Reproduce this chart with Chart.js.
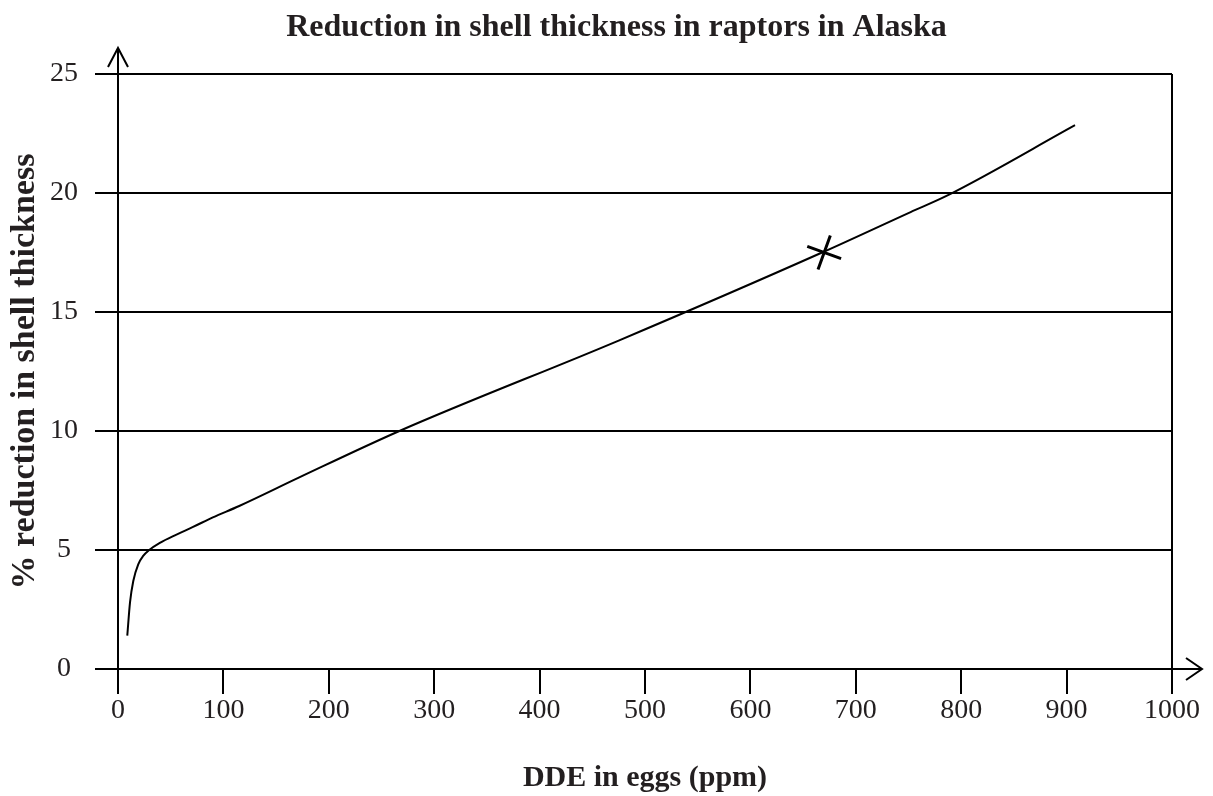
<!DOCTYPE html>
<html>
<head>
<meta charset="utf-8">
<script src="https://cdn.jsdelivr.net/npm/chart.js@4.4.1/dist/chart.umd.min.js"></script>
<style>
  html, body { margin: 0; padding: 0; background: #ffffff; }
  #wrap { width: 1213px; height: 796px; position: relative; }
</style>
</head>
<body>
<div id="wrap"><canvas id="c" width="1213" height="796"></canvas></div>
<script>
// ---- data ----
const ddePpm       = [8.8, 11.4, 14.5, 19.2, 23.9, 29.6, 39.7, 55.5, 71.2, 90, 115, 172, 267, 475, 668, 752, 787, 908];
const reductionPct = [1.4, 2.8, 3.7, 4.4, 4.75, 5.0, 5.3, 5.65, 5.97, 6.37, 6.85, 8.05, 10, 13.8, 17.5, 19.2, 19.9, 22.85];
const markerPpm    = [670];
const markerPct    = [17.5];
const xTicks       = [0, 100, 200, 300, 400, 500, 600, 700, 800, 900, 1000];
const yTicks       = [0, 5, 10, 15, 20, 25];
const titleText    = 'Reduction in shell thickness in raptors in Alaska';
const xTitleText   = 'DDE in eggs (ppm)';
const yTitleText   = '% reduction in shell thickness';

const INK = '#231f20';
const LINE = '#000000';
const SERIF = '"Liberation Serif", "Times New Roman", serif';

const curvePoints = ddePpm.map((x, i) => ({ x: x, y: reductionPct[i] }));
const markerPoints = markerPpm.map((x, i) => ({ x: x, y: markerPct[i] }));

const arrowPlugin = {
  id: 'axisArrows',
  afterDraw(chart) {
    const { left, right, top, bottom } = chart.chartArea;
    const ctx = chart.ctx;
    ctx.save();
    ctx.strokeStyle = LINE;
    ctx.lineWidth = 2;
    ctx.lineCap = 'butt';
    // y-axis extension + arrow head
    const yTip = top - 26;
    ctx.beginPath();
    ctx.moveTo(left, top);
    ctx.lineTo(left, yTip);
    ctx.moveTo(left - 10, yTip + 19);
    ctx.lineTo(left, yTip);
    ctx.lineTo(left + 10, yTip + 19);
    ctx.stroke();
    // x-axis extension + arrow head
    const xTip = right + 30;
    ctx.beginPath();
    ctx.moveTo(right, bottom);
    ctx.lineTo(xTip, bottom);
    ctx.moveTo(xTip - 16, bottom - 11);
    ctx.lineTo(xTip, bottom);
    ctx.lineTo(xTip - 16, bottom + 11);
    ctx.stroke();
    ctx.restore();
  }
};

new Chart(document.getElementById('c'), {
  type: 'scatter',
  data: {
    datasets: [
      {
        label: 'curve',
        data: curvePoints,
        showLine: true,
        borderColor: LINE,
        borderWidth: 2,
        pointRadius: 0,
        cubicInterpolationMode: 'monotone',
        fill: false,
        clip: false
      },
      {
        label: 'marker',
        data: markerPoints,
        showLine: false,
        pointStyle: 'cross',
        pointRadius: 18,
        pointRotation: 20,
        borderColor: LINE,
        borderWidth: 3,
        clip: false
      }
    ]
  },
  options: {
    responsive: false,
    maintainAspectRatio: false,
    animation: false,
    layout: { padding: { left: 20, right: 0, top: 0, bottom: 0 } },
    plugins: {
      legend: { display: false },
      tooltip: { enabled: false },
      title: {
        display: true,
        text: titleText,
        color: INK,
        font: { family: SERIF, size: 32, weight: 'bold', lineHeight: 1.2 },
        padding: { top: 9, bottom: 26.6 }
      }
    },
    scales: {
      x: {
        type: 'linear',
        min: 0,
        max: 1000,
        afterBuildTicks(scale) { scale.ticks = xTicks.map(v => ({ value: v })); },
        afterFit(scale) { scale.height = 127; },
        ticks: {
          color: INK,
          font: { family: SERIF, size: 28 },
          padding: 0,
          maxRotation: 0,
          autoSkip: false,
          callback: (v) => String(v)
        },
        grid: {
          display: true,
          drawOnChartArea: true,
          drawTicks: true,
          tickLength: 25,
          lineWidth: 2,
          color: (c) => (c.tick && c.tick.value === 1000 ? LINE : 'rgba(0,0,0,0)'),
          tickColor: LINE
        },
        border: { display: true, color: LINE, width: 2 },
        title: {
          display: true,
          text: xTitleText,
          color: INK,
          font: { family: SERIF, size: 30, weight: 'bold', lineHeight: 1.2 },
          padding: { top: 0, bottom: 0 }
        }
      },
      y: {
        type: 'linear',
        min: 0,
        max: 25,
        afterBuildTicks(scale) { scale.ticks = yTicks.map(v => ({ value: v })); },
        afterFit(scale) { scale.width = 98; },
        ticks: {
          color: INK,
          font: { family: SERIF, size: 28 },
          padding: 17,
          crossAlign: 'center',
          autoSkip: false,
          callback: (v) => String(v)
        },
        grid: {
          display: true,
          drawOnChartArea: true,
          drawTicks: true,
          tickLength: 23,
          lineWidth: 2,
          color: LINE,
          tickColor: LINE
        },
        border: { display: true, color: LINE, width: 2 },
        title: {
          display: true,
          text: yTitleText,
          color: INK,
          font: { family: SERIF, size: 34, weight: 'bold', lineHeight: 1.2 },
          padding: { top: -15, bottom: 0 }
        }
      },
      ySpacer: {
        type: 'linear',
        position: 'right',
        display: true,
        min: 0,
        max: 25,
        afterFit(scale) { scale.width = 41; },
        ticks: { display: false },
        grid: { display: false, drawOnChartArea: false },
        border: { display: false }
      }
    }
  },
  plugins: [arrowPlugin]
});
</script>
</body>
</html>
